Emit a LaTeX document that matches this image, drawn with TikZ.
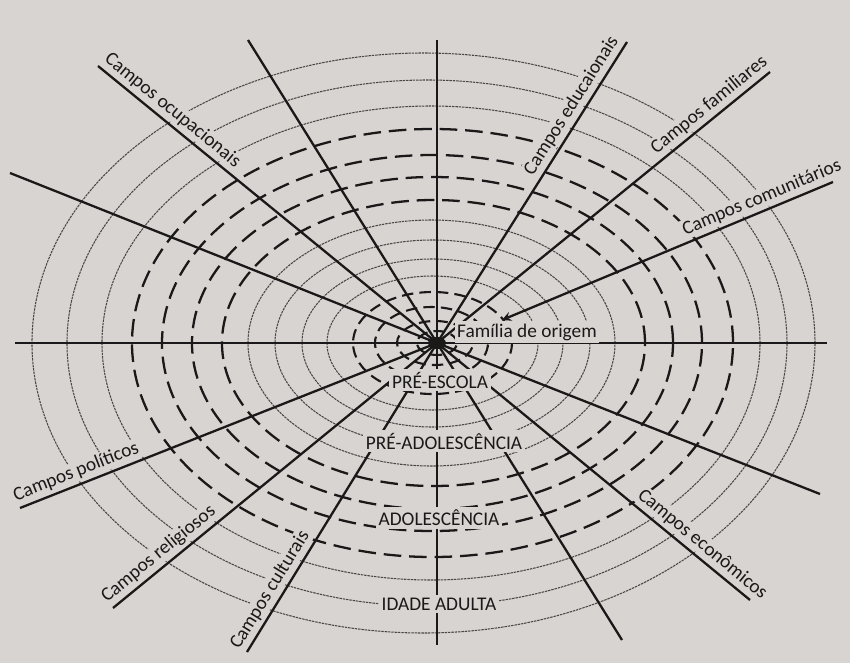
\documentclass[tikz,border=0pt]{standalone}
\usepackage{fontspec}
\setmainfont{Carlito}
\usepackage{tikz}
\usetikzlibrary{arrows}
\definecolor{paper}{RGB}{216,212,209}
\definecolor{ink}{RGB}{26,24,24}
\definecolor{pencil}{RGB}{72,70,70}
\tikzstyle{ray} = [line width=1.3pt, color=ink]
\tikzstyle{ring} = [line width=1.3pt, color=ink, dash pattern=on 10pt off 4.5pt]
\tikzstyle{ringin} = [line width=1.2pt, color=ink, dash pattern=on 6.5pt off 3.5pt]
\tikzstyle{faint} = [line width=0.6pt, color=pencil, dash pattern=on 1.4pt off 0.5pt]
\tikzstyle{field} = [font=\fontsize{11}{13}\selectfont, text=ink, fill=paper, inner sep=1pt, sloped, above=1pt]
\tikzstyle{stage} = [font=\fontsize{11}{13}\selectfont, text=ink, fill=paper, inner sep=1.5pt]

\begin{document}
\begin{tikzpicture}[x=0.2mm, y=0.2mm]
% Page
\fill[paper] (-437,-320) rectangle (413,343);
\useasboundingbox (-437,-320) rectangle (413,343);

% Rings: shift/x radius/y radius/style
\foreach \dx/\a/\b/\s in {-13.5/391.5/290/faint, -10/360/263/faint, -6/329/237/faint,
    -4.5/300.5/214/ring, -5/270/188/ring, -4.5/240.5/166/ring, -3.5/211.5/143/ring,
    -5.5/183.5/123/faint, -4.5/157.5/103/faint, -4.5/130.5/84/faint, -4.5/105.5/67/faint,
    -4.5/79.5/51/ringin, -5.5/56.5/36/ringin, -2/38/22/ringin, 0/20/12/ringin}
  \draw[\s] (\dx,0) ellipse [x radius=\a, y radius=\b];

% Ray ends
\coordinate (hub) at (0,0);
\coordinate (north) at (0,303);
\coordinate (south) at (0,-302);
\coordinate (west) at (-422,0);
\coordinate (east) at (390,0);
\coordinate (nnw) at (-189,303);
\coordinate (ocup) at (-339,277);
\coordinate (wnw) at (-427,170);
\coordinate (educ) at (190,301);
\coordinate (fami) at (333,271);
\coordinate (comu) at (396,161);
\coordinate (comutip) at (65,23);
\coordinate (ese) at (383,-151);
\coordinate (econ) at (313,-257);
\coordinate (sse) at (185,-297);
\coordinate (cult) at (-190,-309);
\coordinate (reli) at (-324,-265);
\coordinate (poli) at (-417,-165);

% Rays
\draw[ray] (north) -- (south);
\draw[ray] (west) -- (east);
\draw[ray] (hub) -- (nnw);
\draw[ray] (hub) -- (wnw);
\draw[ray] (hub) -- (ese);
\draw[ray] (hub) -- (sse);
\draw[ray] (hub) -- (ocup) node[field, pos=0.804] {Campos ocupacionais};
\draw[ray] (hub) -- (educ) node[field, pos=0.765] {Campos educaionais};
\draw[ray] (hub) -- (fami) node[field, pos=0.842] {Campos familiares};
\draw[ray, ->, >=stealth] (comu) -- (comutip) node[field, pos=0.2] {Campos comunitários};
\draw[ray] (hub) -- (econ) node[field, pos=0.822] {Campos econômicos};
\draw[ray] (hub) -- (cult) node[field, pos=0.821] {Campos culturais};
\draw[ray] (hub) -- (reli) node[field, pos=0.834] {Campos religiosos};
\draw[ray] (hub) -- (poli) node[field, pos=0.854] {Campos políticos};
\fill[ink] (hub) ellipse [x radius=9, y radius=6];

% Stages
\node[stage] (origem) at (90,11) {Família de origem};
\node[stage] (preescola) at (3,-37) {PRÉ-ESCOLA};
\node[stage] (preadol) at (7,-98) {PRÉ-ADOLESCÊNCIA};
\node[stage] (adol) at (2,-175) {ADOLESCÊNCIA};
\node[stage] (adulta) at (2,-261) {IDADE ADULTA};
\end{tikzpicture}
\end{document}
